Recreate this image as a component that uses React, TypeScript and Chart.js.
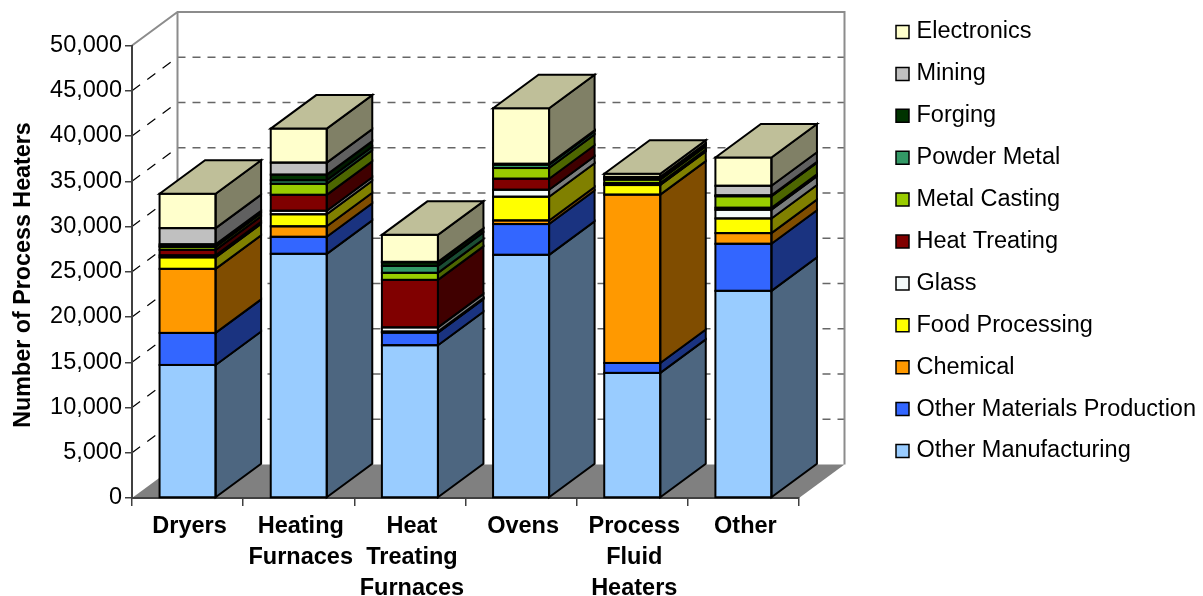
import React, { useEffect, useRef } from "react";
import { Chart, registerables } from "chart.js";

Chart.register(...registerables);

const categories = [
  "Dryers",
  ["Heating", "Furnaces"],
  ["Heat", "Treating", "Furnaces"],
  "Ovens",
  ["Process", "Fluid", "Heaters"],
  "Other",
];

const otherManufacturing = [14700, 26980, 16880, 26870, 13820, 22890];
const otherMaterials = [3540, 1880, 1390, 3400, 1100, 5200];
const chemical = [7080, 1160, 60, 400, 18600, 1180];
const foodProcessing = [1270, 1330, 60, 2620, 1060, 1620];
const glass = [220, 390, 460, 770, 60, 960];
const heatTreating = [610, 1760, 5250, 1220, 150, 220];
const metalCasting = [330, 1220, 780, 1180, 390, 1270];
const powderMetal = [110, 390, 770, 370, 110, 50];
const forging = [170, 620, 390, 50, 110, 50];
const mining = [1790, 1330, 50, 50, 80, 1060];
const electronics = [3800, 3760, 2990, 6140, 350, 3130];

const seriesNames = [
  "Other Manufacturing",
  "Other Materials Production",
  "Chemical",
  "Food Processing",
  "Glass",
  "Heat Treating",
  "Metal Casting",
  "Powder Metal",
  "Forging",
  "Mining",
  "Electronics",
];
const seriesValues = [
  otherManufacturing,
  otherMaterials,
  chemical,
  foodProcessing,
  glass,
  heatTreating,
  metalCasting,
  powderMetal,
  forging,
  mining,
  electronics,
];
const seriesColors = [
  "#99CCFF",
  "#3366FF",
  "#FF9900",
  "#FFFF00",
  "#F4FAFA",
  "#800000",
  "#99CC00",
  "#339966",
  "#003300",
  "#C0C0C0",
  "#FFFFCC",
];

const FONT = "'Liberation Sans', Arial, sans-serif";
const DEPTH_X = 45.5;
const DEPTH_Y = -33.5;
const LEGEND_LEFT = 881.85;
const LEGEND_TOP = 1.85;
const LEGEND_GAP = 18.4;

// Scales a hex colour towards black for the shaded faces of a column.
function shade(hex: string, factor: number): string {
  const n = parseInt(hex.slice(1), 16);
  const r = Math.round(((n >> 16) & 255) * factor);
  const g = Math.round(((n >> 8) & 255) * factor);
  const b = Math.round((n & 255) * factor);
  return `rgb(${r},${g},${b})`;
}

function polygon(ctx: CanvasRenderingContext2D, pts: number[][]) {
  ctx.beginPath();
  pts.forEach(([x, y], i) => (i ? ctx.lineTo(x, y) : ctx.moveTo(x, y)));
  ctx.closePath();
}

// Floor, back wall and the dashed gridlines that run along them.
const roomPlugin = {
  id: "room",
  beforeDraw(chart: any) {
    const { ctx, scales } = chart;
    const { left, right, top, bottom } = chart.chartArea;
    const yScale = scales.y;
    ctx.save();

    polygon(ctx, [
      [left, bottom],
      [left + DEPTH_X, bottom + DEPTH_Y],
      [right + DEPTH_X, bottom + DEPTH_Y],
      [right, bottom],
    ]);
    ctx.fillStyle = "#808080";
    ctx.fill();

    yScale.ticks.forEach((tick: any) => {
      if (tick.value === 0 || tick.value === yScale.max) return;
      const y = yScale.getPixelForValue(tick.value);
      ctx.beginPath();
      ctx.moveTo(left + DEPTH_X, y + DEPTH_Y);
      ctx.lineTo(right + DEPTH_X, y + DEPTH_Y);
      ctx.setLineDash([8, 7]);
      ctx.strokeStyle = "#666666";
      ctx.lineWidth = 1.5;
      ctx.stroke();

      ctx.beginPath();
      ctx.moveTo(left, y);
      ctx.lineTo(left + DEPTH_X, y + DEPTH_Y);
      ctx.setLineDash([10, 9]);
      ctx.strokeStyle = "#000000";
      ctx.lineWidth = 1.2;
      ctx.stroke();
    });

    ctx.setLineDash([]);
    ctx.strokeStyle = "#8C8C8C";
    ctx.lineWidth = 2;
    ctx.beginPath();
    ctx.moveTo(left, top);
    ctx.lineTo(left + DEPTH_X, top + DEPTH_Y);
    ctx.lineTo(right + DEPTH_X, top + DEPTH_Y);
    ctx.lineTo(right + DEPTH_X, bottom + DEPTH_Y);
    ctx.moveTo(left + DEPTH_X, top + DEPTH_Y);
    ctx.lineTo(left + DEPTH_X, bottom + DEPTH_Y);
    ctx.stroke();
    ctx.restore();
  },
};

// Extrudes every stacked segment backwards and outlines its visible faces.
const extrudePlugin = {
  id: "extrude",
  afterDatasetsDraw(chart: any) {
    const { ctx } = chart;
    const count = chart.data.labels.length;
    ctx.save();
    ctx.strokeStyle = "#000000";
    ctx.lineWidth = 2;
    ctx.lineJoin = "miter";
    for (let col = 0; col < count; col++) {
      let topEdge = null as null | { l: number; r: number; y: number; color: string };
      chart.data.datasets.forEach((ds: any, i: number) => {
        const bar = chart.getDatasetMeta(i).data[col];
        const { x, y, base, width } = bar.getProps(["x", "y", "base", "width"], true);
        const l = x - width / 2;
        const r = x + width / 2;
        polygon(ctx, [
          [r, base],
          [r + DEPTH_X, base + DEPTH_Y],
          [r + DEPTH_X, y + DEPTH_Y],
          [r, y],
        ]);
        ctx.fillStyle = shade(ds.backgroundColor, 0.5);
        ctx.fill();
        ctx.stroke();
        ctx.strokeRect(l, y, width, base - y);
        topEdge = { l, r, y, color: ds.backgroundColor };
      });
      if (topEdge) {
        const { l, r, y, color } = topEdge;
        polygon(ctx, [
          [l, y],
          [l + DEPTH_X, y + DEPTH_Y],
          [r + DEPTH_X, y + DEPTH_Y],
          [r, y],
        ]);
        ctx.fillStyle = shade(color, 0.75);
        ctx.fill();
        ctx.stroke();
      }
    }
    ctx.restore();
  },
};

// The legend sits in the free space right of the room, so it takes no layout width.
const legendPlacement = {
  id: "legendPlacement",
  beforeLayout(chart: any) {
    const legend = chart.legend;
    if (!legend.zeroWidthFit) {
      const fit = legend.fit;
      legend.fit = function (this: any) {
        fit.call(this);
        this.width = 0;
      };
      legend.zeroWidthFit = true;
    }
  },
  afterLayout(chart: any) {
    const legend = chart.legend;
    legend.left = LEGEND_LEFT;
    legend.right = chart.width;
    legend.top = LEGEND_TOP;
    legend.bottom = chart.height;
  },
};

export default function App() {
  const canvasRef = useRef<HTMLCanvasElement>(null);

  useEffect(() => {
    const chart = new Chart(canvasRef.current as HTMLCanvasElement, {
      type: "bar",
      data: {
        labels: categories as any,
        datasets: seriesNames.map((label, i) => ({
          label,
          data: seriesValues[i],
          backgroundColor: seriesColors[i],
          borderWidth: 0,
          barPercentage: 1,
          categoryPercentage: 0.504,
        })),
      },
      plugins: [roomPlugin, extrudePlugin, legendPlacement],
      options: {
        responsive: false,
        animation: false,
        events: [],
        layout: { padding: { top: 45.5, right: 404, bottom: 0, left: 0 } },
        font: { family: FONT },
        scales: {
          x: {
            stacked: true,
            afterFit: (s: any) => {
              s.height = 98;
            },
            border: { color: "#404040", width: 2 },
            grid: {
              offset: true,
              drawOnChartArea: false,
              tickLength: 8,
              color: "#404040",
              lineWidth: 1.5,
            },
            ticks: {
              color: "#000000",
              maxRotation: 0,
              minRotation: 0,
              autoSkip: false,
              padding: 5,
              labelOffset: 2,
              font: { family: FONT, size: 23.5, weight: "bold", lineHeight: 1.32 },
            },
          },
          y: {
            stacked: true,
            min: 0,
            max: 50000,
            afterFit: (s: any) => {
              s.width = 132;
            },
            border: { color: "#404040", width: 2 },
            grid: {
              drawOnChartArea: false,
              tickLength: 7,
              color: "#404040",
              lineWidth: 1.5,
            },
            ticks: {
              stepSize: 5000,
              color: "#000000",
              padding: 3,
              font: { family: FONT, size: 23.5 },
              callback: (v: any) => Number(v).toLocaleString("en-US"),
            },
            title: {
              display: true,
              text: "Number of Process Heaters ",
              color: "#000000",
              padding: { top: 10, bottom: 0 },
              font: { family: FONT, size: 23.3, weight: "bold" },
            },
          },
        },
        plugins: {
          tooltip: { enabled: false },
          title: { display: false },
          legend: {
            display: true,
            position: "right",
            align: "start",
            reverse: true,
            labels: {
              usePointStyle: true,
              pointStyle: "rect",
              boxWidth: 4.5,
              boxHeight: 13,
              padding: LEGEND_GAP,
              color: "#000000",
              font: { family: FONT, size: 23.5 },
              generateLabels: (c: any) =>
                Chart.defaults.plugins.legend.labels.generateLabels(c).map((item: any) => ({
                  ...item,
                  strokeStyle: "#000000",
                  lineWidth: 1.5,
                })),
            },
          },
        },
      } as any,
    });
    return () => chart.destroy();
  }, []);

  return (
    <div style={{ position: "absolute", left: 0, top: 0, width: 1203, height: 596, background: "#ffffff" }}>
      <canvas ref={canvasRef} width={1203} height={596} style={{ display: "block" }} />
    </div>
  );
}
